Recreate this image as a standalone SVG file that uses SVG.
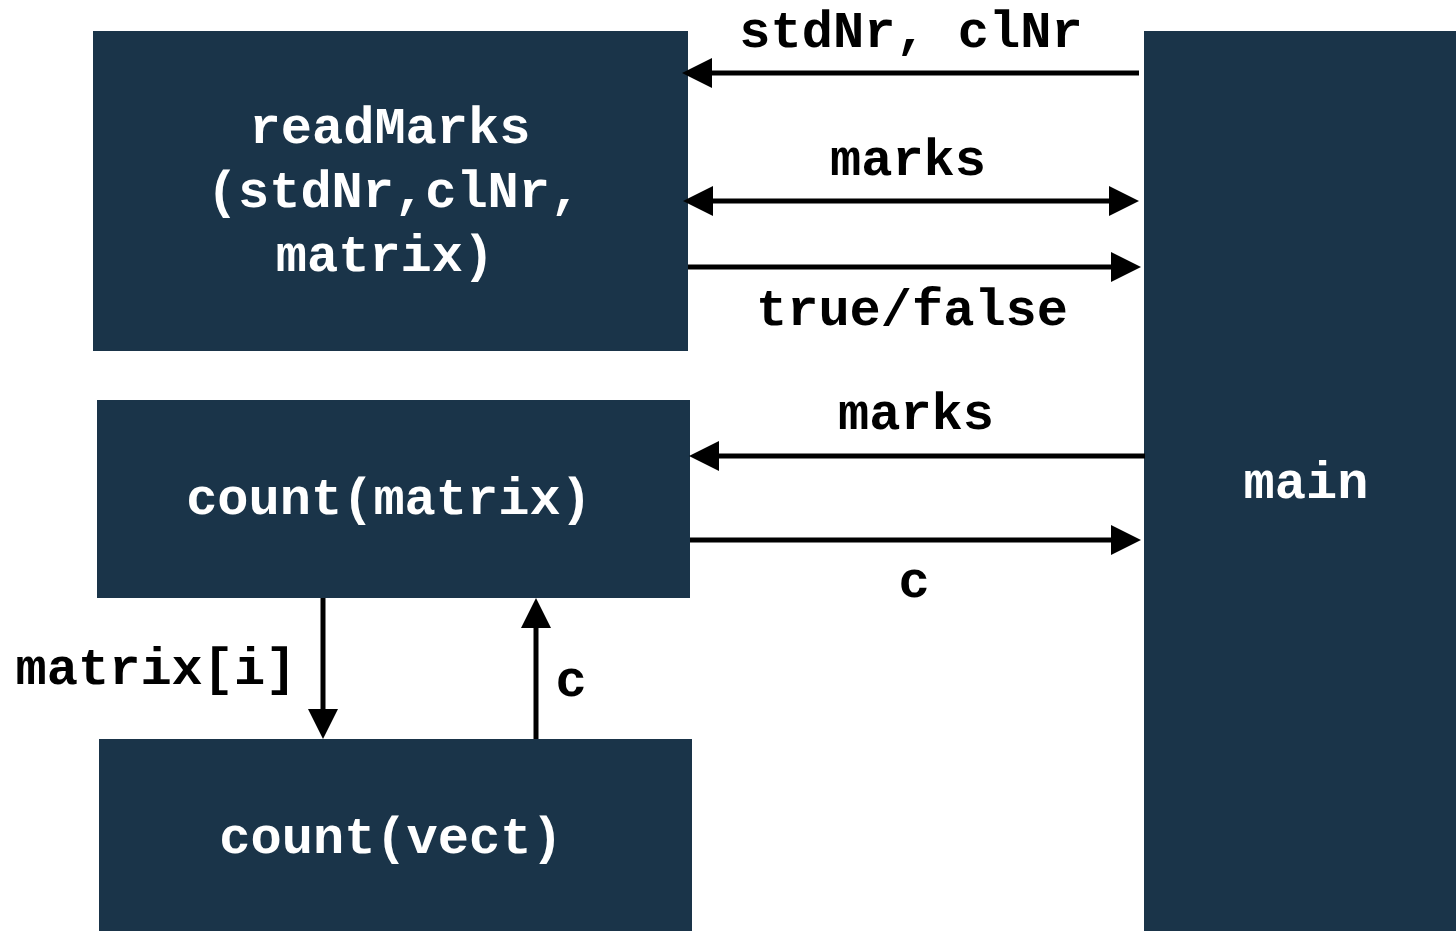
<svg xmlns="http://www.w3.org/2000/svg" width="1456" height="931" viewBox="0 0 1456 931">
<style>
.box{fill:#1a3449}
.nt{fill:#ffffff;font-family:"Liberation Mono","Courier New",monospace;font-weight:bold;font-size:52px;text-anchor:middle}
.lt{fill:#000000;font-family:"Liberation Mono","Courier New",monospace;font-weight:bold;font-size:52px;text-anchor:middle}
.ln{stroke:#000;stroke-width:5;fill:none}
</style>
<defs>
<marker id="ah" markerUnits="userSpaceOnUse" markerWidth="30" markerHeight="30" refX="10" refY="15" orient="auto-start-reverse">
<path d="M0,0 L30,15 L0,30 z" fill="#000"/>
</marker>
</defs>
<rect width="1456" height="931" fill="#ffffff"/>
<g id="readMarks">
<rect class="box" x="93" y="31" width="595" height="320"/>
<text class="nt" x="390" y="143">readMarks</text>
<text class="nt" x="394" y="207">(stdNr,clNr,</text>
<text class="nt" x="385" y="271">matrix)</text>
</g>
<g id="countMatrix">
<rect class="box" x="97" y="400" width="593" height="198"/>
<text class="nt" x="389" y="514">count(matrix)</text>
</g>
<g id="countVect">
<rect class="box" x="99" y="739" width="593" height="192"/>
<text class="nt" x="391" y="853">count(vect)</text>
</g>
<g id="main">
<rect class="box" x="1144" y="31" width="312" height="900"/>
<text class="nt" x="1306" y="498">main</text>
</g>
<g id="connectors">
<line class="ln" x1="1139" y1="73" x2="702" y2="73" marker-end="url(#ah)"/>
<line class="ln" x1="703" y1="201" x2="1119" y2="201" marker-start="url(#ah)" marker-end="url(#ah)"/>
<line class="ln" x1="688" y1="267" x2="1121" y2="267" marker-end="url(#ah)"/>
<line class="ln" x1="1145" y1="456" x2="709" y2="456" marker-end="url(#ah)"/>
<line class="ln" x1="690" y1="540" x2="1121" y2="540" marker-end="url(#ah)"/>
<line class="ln" x1="323" y1="598" x2="323" y2="719" marker-end="url(#ah)"/>
<line class="ln" x1="536" y1="739" x2="536" y2="618" marker-end="url(#ah)"/>
<text class="lt" x="911" y="47">stdNr, clNr</text>
<text class="lt" x="908" y="175">marks</text>
<text class="lt" x="912" y="325">true/false</text>
<text class="lt" x="916" y="429">marks</text>
<text class="lt" x="914" y="597">c</text>
<text class="lt" x="156" y="684">matrix[i]</text>
<text class="lt" x="571" y="696">c</text>
</g>
</svg>
